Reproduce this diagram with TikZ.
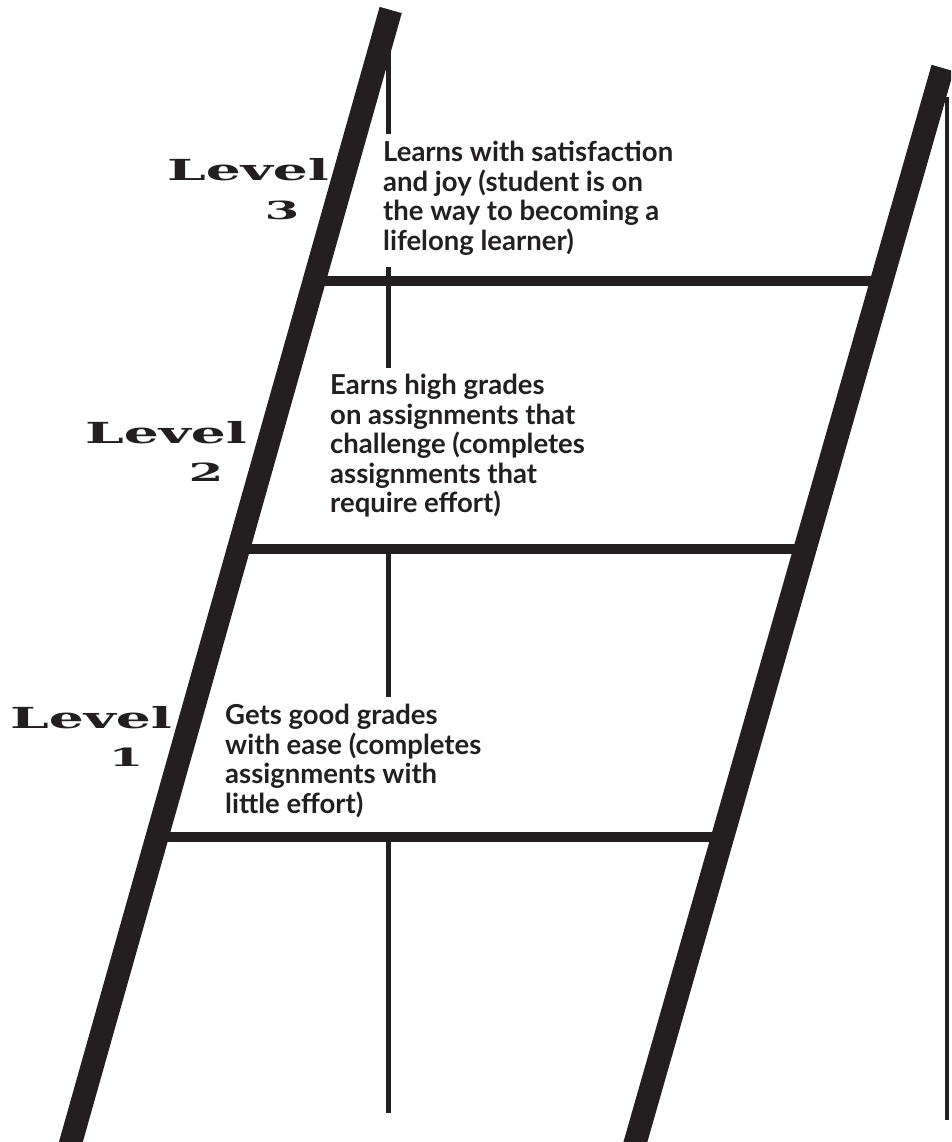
\documentclass[tikz,border=0pt]{standalone}
\usepackage{graphicx}
\usepackage{fontspec}
\setmainfont{Lato}
\newfontfamily\levelfont{DejaVu Serif}
\usepackage{tikz}

\definecolor{inkblack}{HTML}{231F20}

\tikzset{
	rail/.style={line width=23pt, draw=inkblack},
	rung/.style={line width=9.5pt, draw=inkblack},
	midline/.style={line width=5pt, draw=inkblack},
	sideline/.style={line width=3.5pt, draw=inkblack},
	stepnote/.style={anchor=north west, inner sep=0pt, align=left, text=inkblack,
		font=\fontsize{27.5}{29.5}\selectfont\bfseries},
	levword/.style={anchor=north, inner sep=0pt, text=inkblack,
		font=\levelfont\bfseries\fontsize{29}{30}\selectfont},
	levnum/.style={anchor=north, inner sep=0pt, text=inkblack,
		font=\levelfont\bfseries\fontsize{25}{26}\selectfont}
}

\begin{document}
\begin{tikzpicture}[x=1pt, y=-1pt]
		\clip (0,0) rectangle (951,1142);
		
		% rails and rungs
		\coordinate (lt) at (390.7,10);
		\coordinate (lb) at (68.6,1150);
		\coordinate (rt) at (942.6,68);
		\coordinate (rb) at (633.1,1150);
		\coordinate (L3) at (314,281);
		\coordinate (R3) at (882,281);
		\coordinate (L2) at (238,549);
		\coordinate (R2) at (805,549);
		\coordinate (L1) at (157,837);
		\coordinate (R1) at (723,837);
		
		% notes
		\node[stepnote] (t3) at (383,141) {Learns with satisfaction\\and joy (student is on\\the way to becoming a\\lifelong learner)};
		\node[stepnote] (t2) at (330,374) {Earns high grades\\on assignments that\\challenge (completes\\assignments that\\require effort)};
		\node[stepnote] (t1) at (225,704) {Gets good grades\\with ease (completes\\assignments with\\little effort)};
		
		% level labels
		\node[levword] (lev3) at (248,158) {\scalebox{1.9}[1]{Level}};
		\node[levnum] (num3) at (282,201) {\scalebox{2}[1]{3}};
		\node[levword] (lev2) at (166,421) {\scalebox{1.9}[1]{Level}};
		\node[levnum] (num2) at (206,463) {\scalebox{2}[1]{2}};
		\node[levword] (lev1) at (91,706) {\scalebox{1.9}[1]{Level}};
		\node[levnum] (num1) at (126,748) {\scalebox{2}[1]{1}};
		
		% middle line
		\coordinate (mtop) at (388,47);
		\coordinate (mtick) at (388,267);
		\coordinate (mbot) at (388,1113);
		\draw[midline, shorten >=7pt] (mtop) -- (mtop |- t3.north);
		\draw[midline, shorten >=6pt] (mtick) -- (mtick |- t2.north);
		\draw[midline, shorten >=7pt] (mtick |- L2) -- (mtick |- t1.north);
		\draw[midline] (mtick |- L1) -- (mbot);
		
		% right edge line
		\coordinate (etop) at (947,97);
		\coordinate (ebot) at (947,1120);
		\draw[sideline] (etop) -- (ebot);
		
		\draw[rung] (L3) -- (R3);
		\draw[rung] (L2) -- (R2);
		\draw[rung] (L1) -- (R1);
		\draw[rail] (lt) -- (lb);
		\draw[rail] (rt) -- (rb);
		
	\end{tikzpicture}
\end{document}
